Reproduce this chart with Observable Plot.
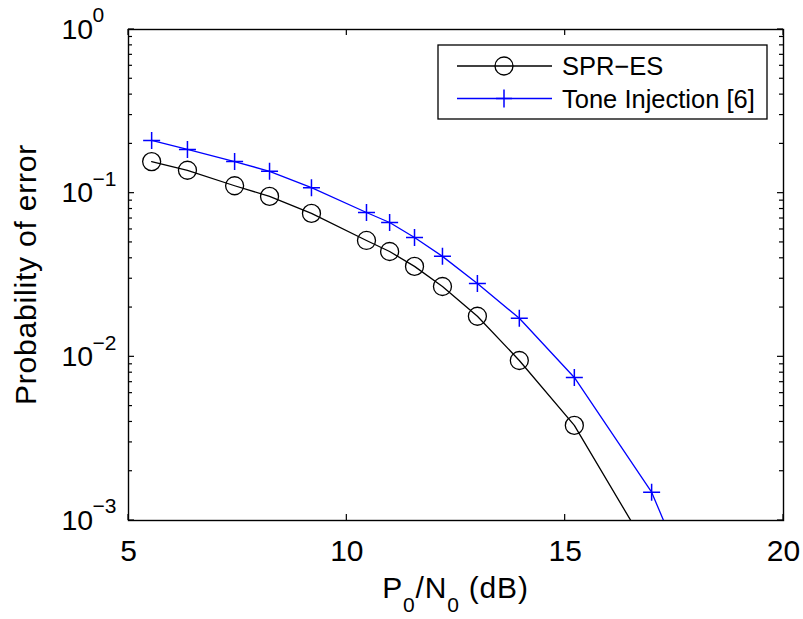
<!DOCTYPE html>
<html>
<head>
<meta charset="utf-8">
<script src="https://cdn.jsdelivr.net/npm/d3@7"></script>
<script src="https://cdn.jsdelivr.net/npm/@observablehq/plot@0.6"></script>
<style>
  body { margin: 0; background: #fff; }
  svg { font-family: "Liberation Sans", Arial, Helvetica, sans-serif; }
</style>
</head>
<body>
<div id="chart"></div>
<script>
// ---- data ----
const snrSpr = [5.53, 6.35, 7.43, 8.23, 9.19, 10.45, 10.98, 11.55, 12.19, 12.99, 13.95, 15.21, 16.98];
const peSpr  = [0.156, 0.138, 0.111, 0.0955, 0.0752, 0.0514, 0.0440, 0.0357, 0.0269, 0.0177, 0.0095, 0.00381, 0.00061];
const snrTone = [5.53, 6.35, 7.43, 8.23, 9.19, 10.45, 10.98, 11.55, 12.19, 12.99, 13.95, 15.21, 16.98, 17.8];
const peTone  = [0.210, 0.185, 0.156, 0.136, 0.108, 0.0762, 0.0662, 0.0536, 0.0411, 0.0281, 0.0172, 0.00748, 0.00149, 0.00045];
const seriesNames = ["SPR\u2212ES", "Tone Injection [6]"];
const xTicks = [5, 10, 15, 20];
const yDecades = [1e-3, 1e-2, 1e-1, 1];
const yExponents = ["\u22123", "\u22122", "\u22121", "0"];
const xLabelParts = ["P", "0", "/N", "0", " (dB)"];
const yLabel = "Probability of error";

const spr = snrSpr.map((x, i) => ({x, y: peSpr[i]}));
const tone = snrTone.map((x, i) => ({x, y: peTone[i]}));

const thinPlus = {
  draw(ctx, size) {
    const r = Math.sqrt(size / Math.PI);
    ctx.moveTo(-r, 0); ctx.lineTo(r, 0);
    ctx.moveTo(0, -r); ctx.lineTo(0, r);
  }
};

function decorations(index, scales, values, dimensions) {
  const {width, height, marginLeft, marginRight, marginTop, marginBottom} = dimensions;
  const x0 = marginLeft, x1 = width - marginRight, y0 = marginTop, y1 = height - marginBottom;
  const g = d3.create("svg:g").attr("text-anchor", "start");
  // inward ticks on all four sides
  const tk = g.append("g").attr("stroke", "black").attr("stroke-width", 1.2).attr("fill", "none");
  for (const v of xTicks) {
    const px = scales.x(v);
    tk.append("line").attr("x1", px).attr("x2", px).attr("y1", y1).attr("y2", y1 - 6);
    tk.append("line").attr("x1", px).attr("x2", px).attr("y1", y0).attr("y2", y0 + 6);
  }
  for (const d of yDecades) {
    for (let m = 1; m <= 9; m++) {
      const v = d * m;
      if (v > 1.0000001) break;
      const py = scales.y(v);
      const len = m === 1 ? 6 : 4;
      tk.append("line").attr("x1", x0).attr("x2", x0 + len).attr("y1", py).attr("y2", py);
      tk.append("line").attr("x1", x1).attr("x2", x1 - len).attr("y1", py).attr("y2", py);
    }
  }
  // x axis label with subscripts
  const xl = g.append("text")
    .attr("x", (x0 + x1) / 2).attr("y", y1 + 78)
    .attr("text-anchor", "middle").attr("font-size", 30).attr("letter-spacing", 0.8).attr("fill", "black");
  xl.append("tspan").text(xLabelParts[0]);
  xl.append("tspan").attr("font-size", 21).attr("dy", 14).text(xLabelParts[1]);
  xl.append("tspan").attr("dy", -14).text(xLabelParts[2]);
  xl.append("tspan").attr("font-size", 21).attr("dy", 14).text(xLabelParts[3]);
  xl.append("tspan").attr("dy", -14).text(xLabelParts[4]);
  // y axis label
  g.append("text")
    .attr("transform", `translate(36,${(y0 + y1) / 2}) rotate(-90)`)
    .attr("text-anchor", "middle").attr("font-size", 30).attr("letter-spacing", 0.8).attr("fill", "black")
    .text(yLabel);
  // legend
  const lx = x1 - 345, ly = y0 + 16, lw = 329, lh = 74;
  const lg = g.append("g");
  lg.append("rect").attr("x", lx).attr("y", ly).attr("width", lw).attr("height", lh)
    .attr("fill", "white").attr("stroke", "black").attr("stroke-width", 1.3);
  const rows = [
    {name: seriesNames[0], color: "black", sym: "circle"},
    {name: seriesNames[1], color: "#0000ff", sym: "plus"}
  ];
  rows.forEach((r, i) => {
    const cy = ly + 21 + i * 32.5;
    lg.append("line").attr("x1", lx + 19).attr("x2", lx + 114).attr("y1", cy).attr("y2", cy)
      .attr("stroke", r.color).attr("stroke-width", 1.3);
    if (r.sym === "circle") {
      lg.append("circle").attr("cx", lx + 66).attr("cy", cy).attr("r", 9)
        .attr("fill", "none").attr("stroke", r.color).attr("stroke-width", 1.3);
    } else {
      lg.append("path").attr("d", `M${lx + 58},${cy}H${lx + 74}M${lx + 66},${cy - 9}V${cy + 9}`)
        .attr("stroke", r.color).attr("stroke-width", 1.5);
    }
    lg.append("text").attr("x", lx + 124).attr("y", cy + 9).attr("font-size", 25.5)
      .attr("text-anchor", "start").attr("fill", "black").text(r.name);
  });
  return g.node();
}

const chart = Plot.plot({
  width: 803,
  height: 619,
  marginLeft: 128,
  marginRight: 20,
  marginTop: 29,
  marginBottom: 99,
  style: {fontFamily: '"Liberation Sans", Arial, Helvetica, sans-serif', fontSize: "30px", background: "white", color: "black"},
  x: {domain: [5, 20], ticks: xTicks, tickSize: 0, tickPadding: 19, label: null, tickFormat: d => String(d)},
  y: {type: "log", domain: [1e-3, 1], axis: null},
  marks: [
    Plot.frame({stroke: "black", strokeWidth: 1.4}),
    Plot.text(yDecades, {y: d => d, frameAnchor: "left", text: () => "10", textAnchor: "start", dx: -67, fontSize: 28.5}),
    Plot.text(yDecades, {y: d => d, frameAnchor: "left", text: (d, i) => yExponents[i], textAnchor: "start", dx: -36, dy: -14, fontSize: 21}),
    Plot.line(spr, {x: "x", y: "y", stroke: "black", strokeWidth: 1.3, clip: true}),
    Plot.dot(spr, {x: "x", y: "y", r: 9, stroke: "black", strokeWidth: 1.3, fill: "none", clip: true}),
    Plot.line(tone, {x: "x", y: "y", stroke: "#0000ff", strokeWidth: 1.3, clip: true}),
    Plot.dot(tone, {x: "x", y: "y", r: 8.5, symbol: thinPlus, stroke: "#0000ff", strokeWidth: 1.5, fill: "none", clip: true}),
    decorations
  ]
});
document.getElementById("chart").appendChild(chart);
</script>
</body>
</html>
